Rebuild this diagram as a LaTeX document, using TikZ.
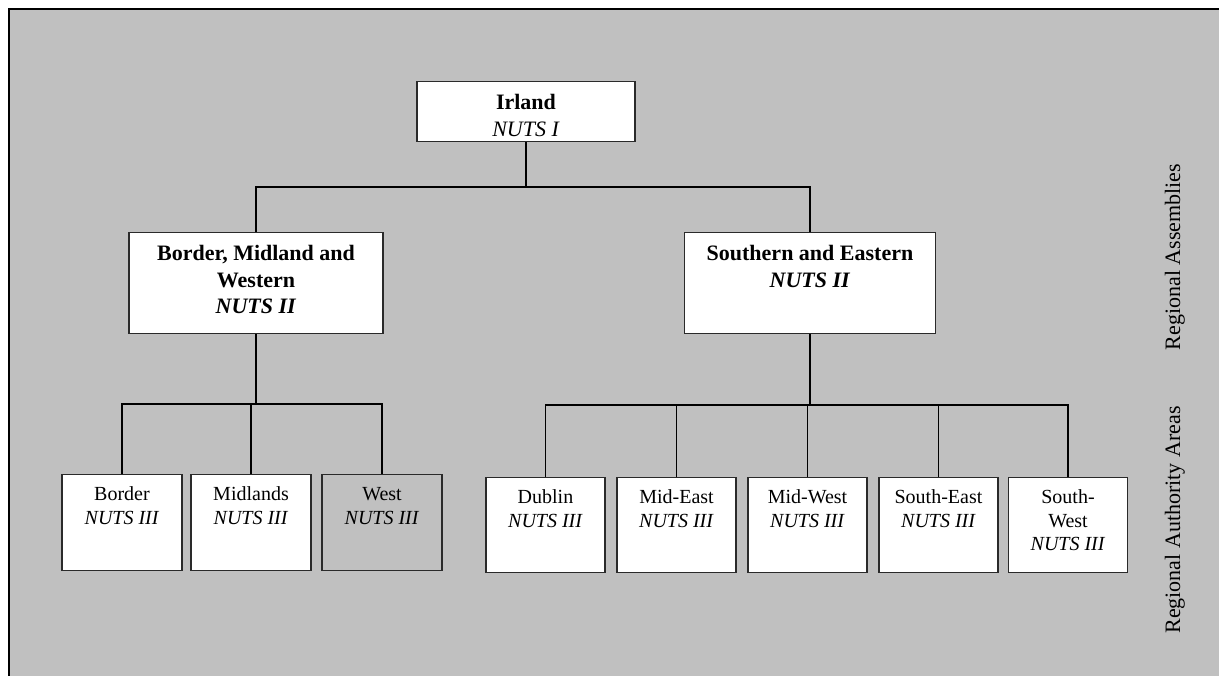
\documentclass[tikz,border=0pt]{standalone}
\usepackage{fontspec}
\setmainfont{Liberation Serif}

\definecolor{panelgray}{HTML}{C0C0C0}
\definecolor{edgegray}{HTML}{2A2A2A}

% box contents: width, height, text (top aligned)
\newcommand{\headcell}[3]{\parbox[c][#2][t]{#1}{\centering\fontsize{22}{26.5}\selectfont\rule{0pt}{28pt}#3}}
\newcommand{\areacell}[3]{\parbox[c][#2][t]{#1}{\centering\fontsize{20}{23.5}\selectfont\rule{0pt}{26pt}#3}}

\begin{document}
\begin{tikzpicture}[x=1pt, y=-1pt,
  box/.style={draw=edgegray, line width=1.3pt, fill=white, inner sep=0pt, anchor=north},
  link/.style={line width=1.4pt},
  trunk/.style={line width=2pt},
  side/.style={rotate=90, anchor=base, font=\fontsize{22}{26}\selectfont}]
  \useasboundingbox (0,0) rectangle (1219,676);
  \fill[white] (0,0) rectangle (1219,676);
  \draw[line width=2.4pt, fill=panelgray] (9,9) rectangle (1240,700);

  % level 1
  \node[box] (irl) at (526,81) {\headcell{218pt}{60pt}{\textbf{Irland}\\\textit{NUTS I}}};

  % level 2
  \node[box] (bmw) at (256,232) {\headcell{254pt}{101pt}{\textbf{Border, Midland and}\\\textbf{Western}\\\textbf{\textit{NUTS II}}}};
  \node[box] (sae) at (810,232) {\headcell{251pt}{101pt}{\textbf{Southern and Eastern}\\\textbf{\textit{NUTS II}}}};

  % level 3
  \node[box] (border) at (122,474) {\areacell{120pt}{96pt}{Border\\\textit{NUTS III}}};
  \node[box] (midlands) at (251,474) {\areacell{120pt}{96pt}{Midlands\\\textit{NUTS III}}};
  \node[box, fill=panelgray] (west) at (382,474) {\areacell{120pt}{96pt}{West\\\textit{NUTS III}}};

  \node[box] (dublin) at (545.5,477) {\areacell{119pt}{95pt}{Dublin\\\textit{NUTS III}}};
  \node[box] (mideast) at (676.5,477) {\areacell{119pt}{95pt}{Mid-East\\\textit{NUTS III}}};
  \node[box] (midwest) at (807.5,477) {\areacell{119pt}{95pt}{Mid-West\\\textit{NUTS III}}};
  \node[box] (southeast) at (938.5,477) {\areacell{119pt}{95pt}{South-East\\\textit{NUTS III}}};
  \node[box] (southwest) at (1068,477) {\areacell{119pt}{95pt}{South-\\West\\\textit{NUTS III}}};

  % connectors
  \coordinate (split1) at (526,187);
  \draw[link] (irl.south) -- (split1);
  \draw[link] (split1) -| (bmw.north);
  \draw[link] (split1) -| (sae.north);

  \coordinate (split2) at (256,404);
  \draw[trunk] (bmw.south) -- (split2);
  \foreach \n in {border, midlands, west}
    \draw[link] (split2) -| (\n.north);

  \coordinate (split3) at (810,405);
  \draw[trunk] (sae.south) -- (split3);
  \foreach \n in {dublin, mideast, midwest, southeast, southwest}
    \draw[link] (split3) -| (\n.north);

  % side labels
  \node[side] (assem) at (1180,257) {Regional Assemblies};
  \node[side] (areas) at (1180,520) {Regional Authority Areas};
\end{tikzpicture}
\end{document}
